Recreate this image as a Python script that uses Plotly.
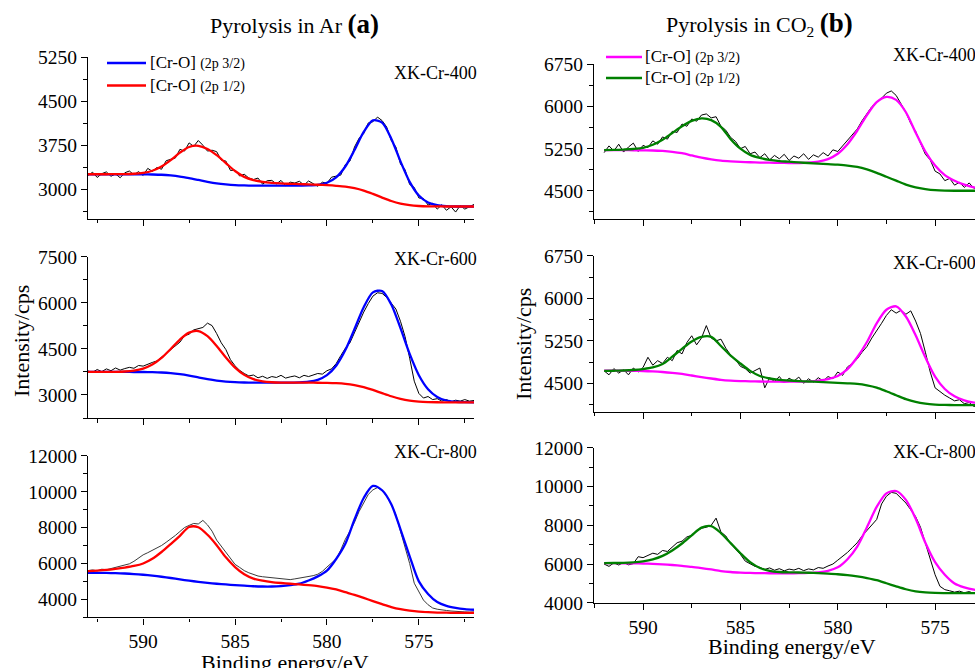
import plotly.graph_objects as go

FONT = "Liberation Serif, Times New Roman, serif"
W, H = 975, 668

# ---------------- energy grids (eV) ----------------
E_FIT_AR = [593.0, 592.5, 592.0, 591.5, 591.0, 590.5, 590.0, 589.5, 589.0, 588.5,
            588.0, 587.5, 587.0, 586.5, 586.0, 585.5, 585.0, 584.5, 584.0, 583.5,
            583.0, 582.5, 582.0, 581.5, 581.0, 580.5, 580.0, 579.5, 579.0, 578.5,
            578.0, 577.5, 577.0, 576.5, 576.0, 575.5, 575.0, 574.5, 574.0, 573.5,
            573.0, 572.5, 572.0]
E_FIT_CO2 = [592.0, 591.5, 591.0, 590.5, 590.0, 589.5, 589.0, 588.5, 588.0, 587.5,
             587.0, 586.5, 586.0, 585.5, 585.0, 584.5, 584.0, 583.5, 583.0, 582.5,
             582.0, 581.5, 581.0, 580.5, 580.0, 579.5, 579.0, 578.5, 578.0, 577.5,
             577.0, 576.5, 576.0, 575.5, 575.0, 574.5, 574.0, 573.5, 573.0, 572.5,
             572.0]
E_RAW_AR = [593.0, 592.75, 592.5, 592.25, 592.0, 591.75, 591.5, 591.25, 591.0, 590.75,
            590.5, 590.25, 590.0, 589.75, 589.5, 589.25, 589.0, 588.75, 588.5, 588.25,
            588.0, 587.75, 587.5, 587.25, 587.0, 586.75, 586.5, 586.25, 586.0, 585.75,
            585.5, 585.25, 585.0, 584.75, 584.5, 584.25, 584.0, 583.75, 583.5, 583.25,
            583.0, 582.75, 582.5, 582.25, 582.0, 581.75, 581.5, 581.25, 581.0, 580.75,
            580.5, 580.25, 580.0, 579.75, 579.5, 579.25, 579.0, 578.75, 578.5, 578.25,
            578.0, 577.75, 577.5, 577.25, 577.0, 576.75, 576.5, 576.25, 576.0, 575.75,
            575.5, 575.25, 575.0, 574.75, 574.5, 574.25, 574.0, 573.75, 573.5, 573.25,
            573.0, 572.75, 572.5, 572.25, 572.0]
E_RAW_CO2 = [592.0, 591.75, 591.5, 591.25, 591.0, 590.75, 590.5, 590.25, 590.0, 589.75,
             589.5, 589.25, 589.0, 588.75, 588.5, 588.25, 588.0, 587.75, 587.5, 587.25,
             587.0, 586.75, 586.5, 586.25, 586.0, 585.75, 585.5, 585.25, 585.0, 584.75,
             584.5, 584.25, 584.0, 583.75, 583.5, 583.25, 583.0, 582.75, 582.5, 582.25,
             582.0, 581.75, 581.5, 581.25, 581.0, 580.75, 580.5, 580.25, 580.0, 579.75,
             579.5, 579.25, 579.0, 578.75, 578.5, 578.25, 578.0, 577.75, 577.5, 577.25,
             577.0, 576.75, 576.5, 576.25, 576.0, 575.75, 575.5, 575.25, 575.0, 574.75,
             574.5, 574.25, 574.0, 573.75, 573.5, 573.25, 573.0, 572.75, 572.5, 572.25,
             572.0]

# ---------------- Pyrolysis in Ar ----------------
raw_ar400 = [3235, 3290, 3200, 3265, 3295, 3220, 3260, 3195, 3280, 3310,
             3245, 3300, 3235, 3355, 3305, 3370, 3340, 3485, 3510, 3530,
             3680, 3650, 3790, 3730, 3830, 3750, 3650, 3665, 3640, 3495,
             3480, 3320, 3325, 3225, 3255, 3190, 3165, 3190, 3085, 3145,
             3150, 3090, 3150, 3060, 3120, 3105, 3135, 3070, 3140, 3095,
             3050, 3120, 3100, 3205, 3220, 3240, 3420, 3480, 3720, 3870,
             3950, 4130, 4150, 4230, 4170, 4060, 3830, 3720, 3430, 3330,
             3080, 3030, 2850, 2840, 2730, 2760, 2660, 2735, 2640, 2700,
             2610, 2720, 2660, 2700, 2740]
p32_ar400 = [3255, 3255, 3255, 3255, 3255, 3255, 3254, 3251, 3246, 3234,
             3216, 3189, 3158, 3126, 3099, 3081, 3069, 3064, 3061, 3060,
             3060, 3060, 3060, 3062, 3064, 3075, 3110, 3202, 3387, 3668,
             3977, 4173, 4136, 3861, 3474, 3125, 2891, 2772, 2726, 2710,
             2705, 2705, 2705]
p12_ar400 = [3255, 3255, 3255, 3256, 3257, 3263, 3278, 3315, 3387, 3496,
             3623, 3720, 3740, 3685, 3580, 3445, 3310, 3210, 3155, 3125,
             3108, 3098, 3092, 3087, 3082, 3076, 3068, 3058, 3044, 3018,
             2977, 2920, 2857, 2798, 2754, 2727, 2713, 2707, 2706, 2705,
             2705, 2705, 2705]

raw_ar600 = [3780, 3740, 3830, 3760, 3850, 3790, 3880, 3810, 3860, 3900,
             3870, 3960, 3940, 4010, 4060, 4110, 4230, 4330, 4480, 4600,
             4720, 4930, 4980, 5120, 5150, 5200, 5340, 5260, 5000, 4700,
             4480, 4150, 3950, 3800, 3700, 3620, 3650, 3560, 3610, 3540,
             3600, 3570, 3640, 3550, 3590, 3620, 3560, 3640, 3600, 3660,
             3700, 3680, 3790, 3850, 4020, 4280, 4520, 4700, 5050, 5350,
             5700, 5980, 6220, 6330, 6310, 6180, 6000, 5800, 5400, 4900,
             4200, 3450, 3050, 2900, 2950, 2850, 2880, 2800, 2850, 2780,
             2830, 2800, 2850, 2800, 2820]
p32_ar600 = [3750, 3750, 3750, 3750, 3750, 3749, 3748, 3743, 3733, 3713,
             3679, 3632, 3575, 3518, 3471, 3437, 3417, 3407, 3402, 3401,
             3400, 3400, 3402, 3409, 3431, 3494, 3646, 3953, 4463, 5149,
             5857, 6344, 6389, 5947, 5176, 4338, 3644, 3188, 2937, 2820,
             2779, 2765, 2760]
p12_ar600 = [3750, 3750, 3751, 3754, 3765, 3793, 3860, 3991, 4207, 4499,
             4806, 5032, 5080, 4918, 4598, 4223, 3891, 3655, 3514, 3445,
             3415, 3404, 3401, 3400, 3400, 3399, 3395, 3385, 3364, 3322,
             3255, 3164, 3059, 2958, 2875, 2818, 2786, 2770, 2763, 2760,
             2760, 2760, 2760]

raw_ar800 = [5600, 5640, 5590, 5680, 5650, 5720, 5760, 5830, 5900, 5980,
             6120, 6300, 6480, 6600, 6720, 6850, 7000, 7180, 7350, 7560,
             7780, 8000, 8120, 8230, 8200, 8400, 8150, 7800, 7300, 6950,
             6600, 6250, 5950, 5780, 5600, 5480, 5380, 5300, 5260, 5230,
             5180, 5150, 5120, 5130, 5100, 5140, 5180, 5220, 5260, 5320,
             5400, 5560, 5800, 6050, 6250, 6750, 7350, 7800, 8300, 8900,
             9350, 9850, 10100, 10230, 10050, 9750, 9300, 8700, 7800, 6900,
             6000, 4900, 4400, 3960, 3700, 3520, 3450, 3400, 3380, 3350,
             3320, 3310, 3300, 3290, 3300]
p32_ar800 = [5480, 5475, 5470, 5460, 5440, 5410, 5370, 5320, 5260, 5190,
             5110, 5040, 4980, 4920, 4870, 4830, 4790, 4760, 4730, 4715,
             4715, 4740, 4790, 4870, 5050, 5280, 5600, 6250, 7100, 8450,
             9650, 10320, 10080, 9300, 7900, 6400, 5000, 4300, 3850, 3640,
             3530, 3460, 3420]
p12_ar800 = [5570, 5600, 5640, 5700, 5770, 5860, 6000, 6260, 6640, 7080,
             7540, 8030, 8020, 7600, 7020, 6340, 5800, 5400, 5160, 5040,
             4960, 4910, 4870, 4830, 4790, 4740, 4660, 4550, 4400, 4250,
             4080, 3900, 3730, 3570, 3450, 3370, 3315, 3285, 3265, 3255,
             3250, 3250, 3250]

# ---------------- Pyrolysis in CO2 ----------------
raw_co2_400 = [5180, 5300, 5210, 5330, 5190, 5280, 5350, 5200, 5310, 5270,
               5390, 5330, 5460, 5420, 5560, 5540, 5690, 5650, 5780, 5740,
               5850, 5870, 5800, 5820, 5650, 5580, 5450, 5380, 5250, 5290,
               5160, 5190, 5090, 5160, 5050, 5130, 5070, 5150, 5040, 5120,
               5080, 5160, 5060, 5140, 5100, 5180, 5120, 5230, 5200, 5300,
               5380, 5500, 5600, 5750, 5880, 6000, 6080, 6150, 6240, 6280,
               6200, 6060, 5900, 5700, 5560, 5350, 5150, 5050, 4850, 4800,
               4680, 4720, 4600, 4650, 4560, 4640, 4540, 4600, 4520, 4580,
               4510]
p32_co2_400 = [5225, 5225, 5224, 5222, 5220, 5218, 5210, 5195, 5170, 5130,
               5090, 5060, 5038, 5025, 5015, 5008, 5003, 5000, 4998, 4995,
               4995, 5000, 5020, 5065, 5160, 5330, 5570, 5850, 6080, 6175,
               6120, 5900, 5540, 5200, 4950, 4780, 4680, 4610, 4560, 4530,
               4515]
p12_co2_400 = [5225, 5228, 5235, 5245, 5265, 5320, 5410, 5530, 5650, 5745,
               5790, 5760, 5640, 5420, 5250, 5140, 5085, 5050, 5030, 5018,
               5005, 4995, 4985, 4975, 4965, 4950, 4925, 4880, 4820, 4750,
               4680, 4610, 4560, 4530, 4510, 4502, 4500, 4500, 4500, 4500,
               4500]

raw_co2_600 = [4720, 4650, 4760, 4680, 4740, 4650, 4770, 4700, 4780, 4960,
               4820, 4900, 4850, 4960, 4900, 5080, 5020, 5220, 5340, 5180,
               5300, 5520, 5300, 5250, 5280, 5120, 5000, 4920, 4800, 4760,
               4680, 4720, 4770, 4420, 4600, 4530, 4620, 4510, 4590, 4540,
               4610, 4500, 4580, 4520, 4600, 4540, 4620, 4580, 4700, 4640,
               4790, 4850, 4930, 5050, 5150, 5300, 5420, 5560, 5700, 5800,
               5740, 5790, 5720, 5780, 5600, 5380, 5050, 4700, 4420, 4350,
               4290, 4240, 4190, 4210, 4140, 4160, 4090, 4120, 4060, 4100,
               4070]
p32_co2_600 = [4725, 4725, 4723, 4720, 4716, 4710, 4700, 4685, 4665, 4638,
               4610, 4585, 4562, 4548, 4540, 4535, 4532, 4530, 4528, 4528,
               4530, 4535, 4548, 4575, 4630, 4750, 4960, 5230, 5560, 5800,
               5860, 5680, 5350, 4960, 4620, 4400, 4270, 4200, 4160, 4140,
               4130]
p12_co2_600 = [4720, 4722, 4726, 4735, 4752, 4780, 4840, 4970, 5110, 5240,
               5320, 5320, 5160, 4990, 4850, 4720, 4630, 4585, 4560, 4550,
               4540, 4532, 4525, 4515, 4508, 4500, 4490, 4465, 4425, 4360,
               4290, 4220, 4170, 4140, 4125, 4118, 4115, 4115, 4115, 4115,
               4115]

raw_co2_800 = [6000, 5880, 6060, 5950, 6080, 5960, 6020, 6380, 6330, 6450,
               6560, 6500, 6700, 6650, 6880, 7100, 7180, 7400, 7480, 7700,
               7850, 7900, 8000, 8370, 7650, 7450, 7050, 6800, 6500, 6150,
               6000, 5880, 5830, 5720, 5800, 5680, 5760, 5650, 5740, 5690,
               5780, 5660, 5750, 5700, 5820, 5780, 5900, 6000, 6200, 6380,
               6600, 6850, 7100, 7450, 7750, 8050, 8300, 9100, 9500, 9700,
               9650, 9400, 9150, 8800, 8450, 7900, 7100, 6250, 5450, 4850,
               4680, 4620, 4550, 4600, 4520, 4580, 4480, 4540, 4470, 4520,
               4480]
p32_co2_800 = [6045, 6045, 6040, 6035, 6025, 6010, 5985, 5950, 5905, 5855,
               5790, 5720, 5640, 5590, 5560, 5540, 5530, 5525, 5525, 5525,
               5530, 5545, 5575, 5650, 5830, 6250, 6900, 7900, 8950, 9650,
               9770, 9310, 8350, 7100, 6100, 5450, 5000, 4800, 4680, 4620,
               4590]
p12_co2_800 = [6050, 6055, 6065, 6090, 6140, 6240, 6420, 6700, 7060, 7480,
               7880, 7960, 7600, 7080, 6560, 6100, 5800, 5650, 5590, 5575,
               5565, 5550, 5530, 5505, 5475, 5430, 5360, 5275, 5170, 5010,
               4850, 4700, 4590, 4535, 4510, 4502, 4500, 4500, 4500, 4500,
               4500]

SAMPLES = ["XK-Cr-400", "XK-Cr-600", "XK-Cr-800"]
LEGEND_NAMES = ["[Cr-O] <span style='font-size:14px'>(2p 3/2)</span>",
                "[Cr-O] <span style='font-size:14px'>(2p 1/2)</span>"]


# pixel helpers for paper coordinates
def fx(px):
    return px / W


def fy(py):
    return 1 - py / H


panels = [
    dict(ax=1, er=E_RAW_AR, raw=raw_ar400, ef=E_FIT_AR, a=p32_ar400, b=p12_ar400,
         ca="#0000FF", cb="#FF0000", xd=(88, 474), yd=(57, 218.5), yr=(2500, 5255),
         t0=3000, dt=750, mdt=375, raw_col="#000000"),
    dict(ax=2, er=E_RAW_AR, raw=raw_ar600, ef=E_FIT_AR, a=p32_ar600, b=p12_ar600,
         ca="#0000FF", cb="#FF0000", xd=(88, 474), yd=(256.7, 418), yr=(2250, 7505),
         t0=3000, dt=1500, mdt=750, raw_col="#000000"),
    dict(ax=3, er=E_RAW_AR, raw=raw_ar800, ef=E_FIT_AR, a=p32_ar800, b=p12_ar800,
         ca="#0000FF", cb="#FF0000", xd=(88, 474), yd=(455.7, 617.3), yr=(3000, 12005),
         t0=4000, dt=2000, mdt=1000, raw_col="#3a3a3a"),
    dict(ax=4, er=E_RAW_CO2, raw=raw_co2_400, ef=E_FIT_CO2, a=p32_co2_400, b=p12_co2_400,
         ca="#FF00FF", cb="#008000", xd=(594, 975), yd=(64.3, 218.8), yr=(4000, 6755),
         t0=4500, dt=750, mdt=375, raw_col="#000000"),
    dict(ax=5, er=E_RAW_CO2, raw=raw_co2_600, ef=E_FIT_CO2, a=p32_co2_600, b=p12_co2_600,
         ca="#FF00FF", cb="#008000", xd=(594, 975), yd=(255.7, 411.6), yr=(4000, 6755),
         t0=4500, dt=750, mdt=375, raw_col="#000000"),
    dict(ax=6, er=E_RAW_CO2, raw=raw_co2_800, ef=E_FIT_CO2, a=p32_co2_800, b=p12_co2_800,
         ca="#FF00FF", cb="#008000", xd=(594, 975), yd=(447.7, 603), yr=(3990, 12005),
         t0=4000, dt=2000, mdt=1000, raw_col="#000000"),
]

fig = go.Figure()
layout = dict(
    template="none",
    width=W, height=H, autosize=False, margin=dict(l=0, r=0, t=0, b=0, pad=0),
    paper_bgcolor="white", plot_bgcolor="white", showlegend=False,
)

tick_font = dict(family=FONT, size=19.5, color="black")

for p in panels:
    i = p["ax"]
    xs = "x" if i == 1 else f"x{i}"
    ys = "y" if i == 1 else f"y{i}"
    fig.add_trace(go.Scatter(x=p["er"], y=p["raw"], xaxis=xs, yaxis=ys, mode="lines",
                             line=dict(color=p["raw_col"], width=1), hoverinfo="skip"))
    fig.add_trace(go.Scatter(x=p["ef"], y=p["a"], xaxis=xs, yaxis=ys, mode="lines",
                             line=dict(color=p["ca"], width=2.3, shape="spline", smoothing=0.8)))
    fig.add_trace(go.Scatter(x=p["ef"], y=p["b"], xaxis=xs, yaxis=ys, mode="lines",
                             line=dict(color=p["cb"], width=2.3, shape="spline", smoothing=0.8)))

    left_col = i <= 3
    bottom_row = i in (3, 6)
    xr = [593.0, 572.0] if left_col else [592.52, 572.95]
    xkey = "xaxis" if i == 1 else f"xaxis{i}"
    ykey = "yaxis" if i == 1 else f"yaxis{i}"
    layout[xkey] = dict(
        domain=[fx(p["xd"][0]), fx(p["xd"][1])], range=xr, autorange=False,
        automargin=False, anchor=ys, showline=True, linecolor="black", linewidth=1.4,
        ticks="outside", ticklen=6, tickwidth=1.3, tickcolor="black",
        tick0=590, dtick=5, showticklabels=bottom_row, tickfont=tick_font,
        exponentformat="none", showgrid=False, zeroline=False,
        minor=dict(ticks="outside", ticklen=3.5, tickwidth=1.1, tickcolor="black",
                   tick0=590, dtick=2.5, showgrid=False),
    )
    layout[ykey] = dict(
        domain=[fy(p["yd"][1]), fy(p["yd"][0])], range=list(p["yr"]), autorange=False,
        automargin=False, anchor=xs, showline=True, linecolor="black", linewidth=1.4,
        ticks="outside", ticklen=6, tickwidth=1.3, tickcolor="black",
        tick0=p["t0"], dtick=p["dt"], tickfont=tick_font,
        exponentformat="none", separatethousands=False, tickformat="d",
        showgrid=False, zeroline=False,
        minor=dict(ticks="outside", ticklen=3.5, tickwidth=1.1, tickcolor="black",
                   tick0=p["t0"], dtick=p["mdt"], showgrid=False),
    )

annotations = []
shapes = []


def label(text, x, y, size, xanchor="center", yanchor="middle", angle=0):
    annotations.append(dict(text=text, x=fx(x), y=fy(y), xref="paper", yref="paper",
                            xanchor=xanchor, yanchor=yanchor, showarrow=False,
                            textangle=angle, borderpad=0,
                            font=dict(family=FONT, size=size, color="black")))


# column titles
label("Pyrolysis in Ar <b><span style='font-size:27px'>(a)</span></b>", 294, 24, 22)
label("Pyrolysis in CO<sub>2</sub> <b><span style='font-size:27px'>(b)</span></b>", 759, 24, 22)

# axis titles
label("Intensity/cps", 21, 341, 22, angle=-90)
label("Intensity/cps", 524, 344, 22, angle=-90)
label("Binding energy/eV", 285, 662, 22)
label("Binding energy/eV", 792, 646, 22)

# sample names
for name, y in zip(SAMPLES, [73, 259, 452]):
    label(name, 478, y, 18, xanchor="right")
for name, y in zip(SAMPLES, [55, 262.7, 451.7]):
    label(name, 977, y, 18, xanchor="right")

# legend keys
for (x0, x1, tx), rows, cols in [((107, 146, 149), (63, 85.5), ("#0000FF", "#FF0000")),
                                 ((606, 642, 644), (57, 78), ("#FF00FF", "#008000"))]:
    for name, yy, col in zip(LEGEND_NAMES, rows, cols):
        shapes.append(dict(type="line", xref="paper", yref="paper",
                           x0=fx(x0), x1=fx(x1), y0=fy(yy), y1=fy(yy),
                           line=dict(color=col, width=2.3)))
        label(name, tx, yy, 17, xanchor="left")

layout["annotations"] = annotations
layout["shapes"] = shapes
fig.update_layout(**layout)
fig.write_html("out.html")
